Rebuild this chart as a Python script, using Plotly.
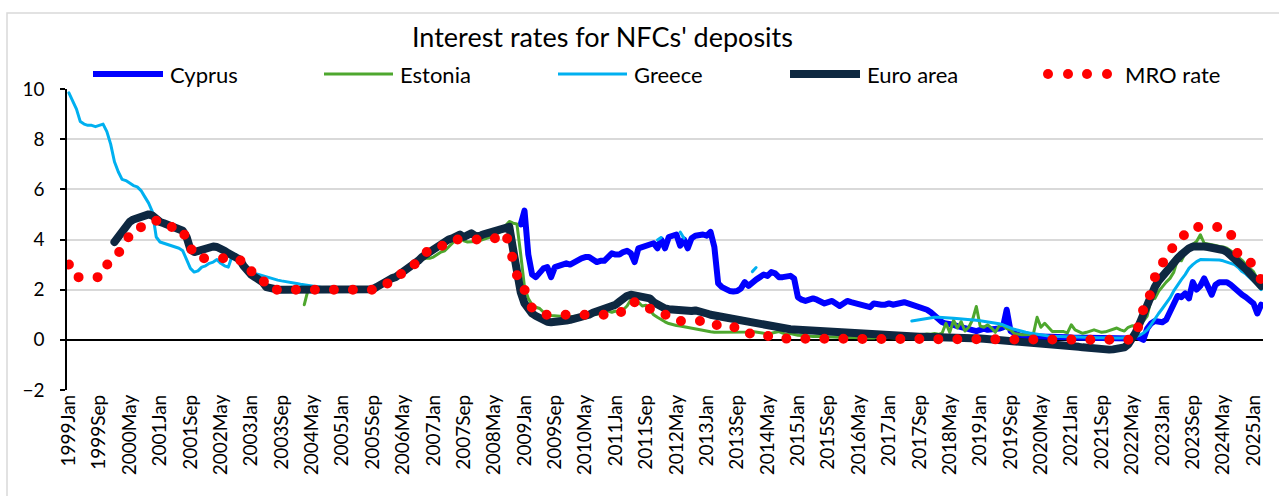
import plotly.graph_objects as go

# ---- categories: monthly observations 1999Jan .. 2025Mar ----
years = list(range(1999, 2026))
month_names = ["Jan", "Feb", "Mar", "Apr", "May", "Jun",
               "Jul", "Aug", "Sep", "Oct", "Nov", "Dec"]
months = [f"{y}{m}" for y in years for m in month_names][:315]
tick_step = 8
tick_idx = list(range(0, len(months), tick_step))
tick_labels = [months[i] for i in tick_idx]

N = None

# ---- series values (% p.a.), one row per year ----
cyprus = [
    N, N, N, N, N, N, N, N, N, N, N, N,                                   # 1999
    N, N, N, N, N, N, N, N, N, N, N, N,                                   # 2000
    N, N, N, N, N, N, N, N, N, N, N, N,                                   # 2001
    N, N, N, N, N, N, N, N, N, N, N, N,                                   # 2002
    N, N, N, N, N, N, N, N, N, N, N, N,                                   # 2003
    N, N, N, N, N, N, N, N, N, N, N, N,                                   # 2004
    N, N, N, N, N, N, N, N, N, N, N, N,                                   # 2005
    N, N, N, N, N, N, N, N, N, N, N, N,                                   # 2006
    N, N, N, N, N, N, N, N, N, N, N, N,                                   # 2007
    N, N, N, N, N, N, N, N, N, N, N, 4.6,                                 # 2008
    5.15, 3.4, 2.6, 2.5, 2.7, 2.85, 2.9, 2.5, 2.9, 2.95, 3.05, 3.05,      # 2009
    3.0, 3.1, 3.2, 3.25, 3.3, 3.3, 3.2, 3.1, 3.15, 3.15, 3.3, 3.45,       # 2010
    3.4, 3.4, 3.5, 3.55, 3.45, 3.1, 3.65, 3.7, 3.75, 3.8, 3.85, 3.65,     # 2011
    4.0, 3.65, 4.1, 4.15, 4.2, 3.75, 4.0, 3.65, 4.05, 4.15, 4.2, 4.2,     # 2012
    4.15, 4.3, 3.7, 2.25, 2.1, 2.0, 1.95, 1.93, 1.95, 2.05, 2.3, 2.15,    # 2013
    2.3, 2.4, 2.5, 2.6, 2.55, 2.7, 2.65, 2.5, 2.5, 2.55, 2.55, 2.45,      # 2014
    1.7, 1.6, 1.55, 1.6, 1.65, 1.6, 1.55, 1.45, 1.5, 1.55, 1.45, 1.35,    # 2015
    1.45, 1.55, 1.5, 1.45, 1.4, 1.35, 1.3, 1.3, 1.45, 1.4, 1.4, 1.4,      # 2016
    1.45, 1.4, 1.45, 1.5, 1.5, 1.45, 1.4, 1.35, 1.3, 1.3, 1.2, 1.1,       # 2017
    0.95, 0.8, 0.7, 0.65, 0.65, 0.6, 0.55, 0.5, 0.45, 0.4, 0.35, 0.35,    # 2018
    0.4, 0.45, 0.4, 0.4, 0.45, 0.45, 0.5, 1.2, 0.35, 0.25, 0.2, 0.15,     # 2019
    0.15, 0.14, 0.13, 0.13, 0.12, 0.12, 0.11, 0.11, 0.1, 0.1, 0.1, 0.1,   # 2020
    0.09, 0.09, 0.08, 0.08, 0.07, 0.07, 0.06, 0.06, 0.05, 0.05, 0.05, 0.04,  # 2021
    0.04, 0.04, 0.03, 0.03, 0.05, 0.15, 0.05, 0.0, 0.45, 0.65, 0.75, 0.7,    # 2022
    0.7, 0.8, 1.15, 1.55, 1.75, 1.7, 1.85, 1.65, 2.3, 2.0, 2.15, 2.45,    # 2023
    2.1, 1.8, 2.2, 2.3, 2.3, 2.3, 2.2, 2.05, 1.9, 1.8, 1.7, 1.55,         # 2024
    1.45, 1.05, 1.4,                                                      # 2025
]

estonia = [
    N, N, N, N, N, N, N, N, N, N, N, N,                                   # 1999
    N, N, N, N, N, N, N, N, N, N, N, N,                                   # 2000
    N, N, N, N, N, N, N, N, N, N, N, N,                                   # 2001
    N, N, N, N, N, N, N, N, N, N, N, N,                                   # 2002
    N, N, N, N, N, N, N, N, N, N, N, N,                                   # 2003
    N, N, 1.4, 2.0, 2.0, 2.02, 2.02, 2.03, 2.05, 2.05, 2.03, 2.02,        # 2004
    2.0, 2.0, 2.0, 2.0, 2.0, 2.0, 2.0, 2.0, 2.02, 2.1, 2.2, 2.3,          # 2005
    2.35, 2.45, 2.5, 2.6, 2.7, 2.8, 2.9, 3.0, 3.1, 3.2, 3.25, 3.25,       # 2006
    3.3, 3.4, 3.5, 3.55, 3.7, 3.85, 4.0, 4.05, 3.95, 3.9, 3.9, 3.92,      # 2007
    3.95, 4.0, 4.05, 4.1, 4.15, 4.25, 4.35, 4.55, 4.72, 4.65, 4.62, 3.4,  # 2008
    2.1, 1.65, 1.4, 1.3, 1.25, 1.1, 1.0, 0.97, 0.95, 0.93, 0.93, 0.92,    # 2009
    0.92, 0.93, 0.93, 0.95, 0.97, 1.0, 1.0, 1.02, 1.05, 1.1, 1.15, 1.1,   # 2010
    1.15, 1.05, 1.2, 1.35, 1.6, 1.65, 1.5, 1.35, 1.38, 1.2, 1.0, 0.9,     # 2011
    0.8, 0.72, 0.65, 0.6, 0.57, 0.55, 0.52, 0.5, 0.47, 0.42, 0.38, 0.35,  # 2012
    0.33, 0.32, 0.3, 0.3, 0.29, 0.28, 0.29, 0.3, 0.29, 0.28, 0.3, 0.31,   # 2013
    0.33, 0.3, 0.27, 0.25, 0.24, 0.26, 0.3, 0.33, 0.27, 0.22, 0.25, 0.2,  # 2014
    0.18, 0.17, 0.15, 0.14, 0.13, 0.14, 0.12, 0.12, 0.11, 0.11, 0.1, 0.1,    # 2015
    0.09, 0.1, 0.09, 0.08, 0.09, 0.08, 0.07, 0.08, 0.07, 0.12, 0.22, 0.1,    # 2016
    0.08, 0.07, 0.07, 0.08, 0.07, 0.08, 0.1, 0.12, 0.15, 0.2, 0.23, 0.22,    # 2017
    0.25, 0.22, 0.27, 0.66, 0.3, 0.78, 0.47, 0.73, 0.35, 0.5, 0.8, 1.33,     # 2018
    0.55, 0.5, 0.6, 0.47, 0.3, 0.55, 0.58, 0.45, 0.4, 0.25, 0.22, 0.2,       # 2019
    0.2, 0.2, 0.22, 0.9, 0.5, 0.66, 0.5, 0.33, 0.33, 0.33, 0.33, 0.28,       # 2020
    0.6, 0.4, 0.33, 0.26, 0.3, 0.36, 0.4, 0.35, 0.3, 0.32, 0.37, 0.45,       # 2021
    0.47, 0.4, 0.35, 0.5, 0.56, 0.55, 0.6, 0.75, 0.95, 1.6, 1.65, 1.93,      # 2022
    2.13, 2.3, 2.45, 2.7, 3.2, 3.15, 3.45, 3.7, 3.8, 3.92, 4.19, 3.85,       # 2023
    3.82, 3.8, 3.76, 3.72, 3.7, 3.65, 3.55, 3.45, 3.3, 3.17, 3.0, 2.85,      # 2024
    2.72, 2.45, 2.25,                                                        # 2025
]

greece = [
    9.85, 9.5, 9.2, 8.7, 8.6, 8.55, 8.55, 8.5, 8.55, 8.6, 8.3, 7.8,       # 1999
    7.1, 6.7, 6.4, 6.35, 6.25, 6.15, 6.1, 5.95, 5.7, 5.45, 5.1, 4.1,      # 2000
    3.9, 3.85, 3.8, 3.78, 3.7, 3.65, 3.55, 3.2, 2.85, 2.7, 2.75, 2.9,     # 2001
    2.95, 3.05, 3.1, 3.2, 3.05, 2.95, 2.9, 3.35, 3.4, 3.1, 2.85, 2.7,     # 2002
    2.7, 2.65, 2.6, 2.55, 2.5, 2.45, 2.4, 2.38, 2.35, 2.33, 2.3, 2.28,    # 2003
    2.25, 2.22, 2.2, 2.18, 2.15, 2.13, 2.1, 2.08, N, N, N, N,             # 2004
    N, N, N, N, N, N, N, N, N, N, N, N,                                   # 2005
    N, N, N, N, N, N, N, N, N, N, N, N,                                   # 2006
    N, N, N, N, N, N, N, N, N, N, N, N,                                   # 2007
    N, N, N, N, N, N, N, N, N, N, N, N,                                   # 2008
    N, N, N, N, N, N, N, N, N, N, N, N,                                   # 2009
    N, N, N, N, N, N, N, N, N, N, N, N,                                   # 2010
    N, N, N, N, N, N, N, N, N, N, N, 3.98,                                # 2011
    4.08, N, N, N, N, 4.3, 4.05, N, N, N, N, N,                           # 2012
    N, N, N, N, N, N, N, N, N, N, N, N,                                   # 2013
    2.72, 2.88, N, N, N, N, N, N, N, N, N, N,                             # 2014
    N, N, N, N, N, N, N, N, N, N, N, N,                                   # 2015
    N, N, N, N, N, N, N, N, N, N, N, N,                                   # 2016
    N, N, N, N, N, N, 0.75, 0.78, 0.8, 0.82, 0.84, 0.87,                  # 2017
    0.9, 0.9, 0.9, 0.88, 0.87, 0.86, 0.85, 0.84, 0.82, 0.82, 0.8, 0.78,   # 2018
    0.76, 0.74, 0.72, 0.7, 0.67, 0.64, 0.6, 0.53, 0.47, 0.42, 0.38, 0.33, # 2019
    0.3, 0.27, 0.24, 0.21, 0.19, 0.17, 0.15, 0.14, 0.13, 0.13, 0.12, 0.12,   # 2020
    0.12, 0.11, 0.11, 0.1, 0.1, 0.09, 0.09, 0.08, 0.08, 0.07, 0.07, 0.07,    # 2021
    0.07, 0.07, 0.07, 0.08, 0.1, 0.13, 0.18, 0.27, 0.4, 0.6, 0.85, 1.05,     # 2022
    1.25, 1.45, 1.67, 1.95, 2.2, 2.4, 2.6, 2.85, 3.0, 3.12, 3.2, 3.2,        # 2023
    3.18, 3.18, 3.19, 3.18, 3.15, 3.1, 3.05, 3.0, 2.88, 2.72, 2.62, 2.48,    # 2024
    2.33, 2.2, 2.0,                                                          # 2025
]

euro_area = [
    N, N, N, N, N, N, N, N, N, N, N, N,                                   # 1999
    3.9, 4.1, 4.3, 4.55, 4.7, 4.8, 4.85, 4.9, 4.95, 5.0, 4.95, 4.8,       # 2000
    4.7, 4.65, 4.6, 4.55, 4.5, 4.45, 4.35, 4.1, 3.6, 3.5, 3.55, 3.6,      # 2001
    3.65, 3.7, 3.72, 3.7, 3.65, 3.55, 3.45, 3.35, 3.3, 3.2, 2.95, 2.75,   # 2002
    2.6, 2.5, 2.4, 2.3, 2.1, 2.05, 2.05, 2.0, 2.0, 2.0, 2.0, 2.0,         # 2003
    2.0, 2.02, 2.05, 2.05, 2.03, 2.02, 2.02, 2.03, 2.05, 2.05, 2.05, 2.03,   # 2004
    2.02, 2.0, 2.0, 2.0, 2.0, 2.0, 2.0, 2.0, 2.02, 2.1, 2.2, 2.3,            # 2005
    2.35, 2.45, 2.5, 2.6, 2.7, 2.8, 2.95, 3.05, 3.15, 3.3, 3.4, 3.5,         # 2006
    3.6, 3.75, 3.85, 3.95, 4.0, 4.05, 4.15, 4.2, 4.1, 4.15, 4.25, 4.15,      # 2007
    4.12, 4.2, 4.25, 4.3, 4.35, 4.42, 4.48, 4.52, 4.5, 3.6, 2.6, 1.9,        # 2008
    1.45, 1.2, 1.05, 0.95, 0.85, 0.77, 0.72, 0.7, 0.7, 0.72, 0.74, 0.77,     # 2009
    0.8, 0.83, 0.85, 0.9, 0.95, 1.0, 1.08, 1.12, 1.18, 1.22, 1.28, 1.33,     # 2010
    1.4, 1.52, 1.65, 1.75, 1.8, 1.78, 1.74, 1.73, 1.72, 1.65, 1.5, 1.4,      # 2011
    1.32, 1.25, 1.22, 1.2, 1.2, 1.18, 1.15, 1.13, 1.15, 1.17, 1.15, 1.1,     # 2012
    1.05, 1.0, 0.97, 0.93, 0.89, 0.86, 0.84, 0.82, 0.8, 0.77, 0.74, 0.71,    # 2013
    0.69, 0.66, 0.63, 0.6, 0.57, 0.54, 0.51, 0.49, 0.46, 0.44, 0.42, 0.41,   # 2014
    0.4, 0.38, 0.36, 0.35, 0.33, 0.32, 0.3, 0.29, 0.28, 0.27, 0.26, 0.25,    # 2015
    0.24, 0.23, 0.22, 0.21, 0.2, 0.2, 0.19, 0.18, 0.18, 0.17, 0.17, 0.16,    # 2016
    0.16, 0.15, 0.15, 0.14, 0.14, 0.13, 0.13, 0.13, 0.12, 0.12, 0.12, 0.11,  # 2017
    0.11, 0.1, 0.1, 0.1, 0.1, 0.09, 0.09, 0.08, 0.08, 0.07, 0.07, 0.06,      # 2018
    0.05, 0.04, 0.03, 0.02, 0.0, -0.01, -0.03, -0.04, -0.05, -0.06, -0.07, -0.1,    # 2019
    -0.12, -0.12, -0.13, -0.14, -0.15, -0.17, -0.18, -0.19, -0.2, -0.2, -0.2, -0.21,  # 2020
    -0.22, -0.25, -0.28, -0.3, -0.32, -0.35, -0.37, -0.38, -0.4, -0.4, -0.39, -0.38,  # 2021
    -0.36, -0.34, -0.3, -0.18, 0.02, 0.3, 0.65, 1.05, 1.5, 1.85, 2.1, 2.35,  # 2022
    2.55, 2.75, 2.95, 3.1, 3.25, 3.4, 3.55, 3.65, 3.72, 3.74, 3.73, 3.72,    # 2023
    3.7, 3.69, 3.68, 3.65, 3.58, 3.5, 3.38, 3.25, 3.12, 2.98, 2.82, 2.65,    # 2024
    2.5, 2.32, 2.15,                                                         # 2025
]

mro_rate = [
    3.0, 3.0, 2.5, 2.5, 2.5, 2.5, 2.5, 2.5, 2.5, 3.0, 3.0, 3.0,           # 1999
    3.25, 3.5, 3.5, 3.75, 4.25, 4.25, 4.25, 4.5, 4.75, 4.75, 4.75, 4.75,  # 2000
    4.75, 4.75, 4.75, 4.5, 4.5, 4.5, 4.5, 3.75, 3.75, 3.25, 3.25, 3.25,   # 2001
    3.25, 3.25, 3.25, 3.25, 3.25, 3.25, 3.25, 3.25, 3.25, 3.25, 2.75, 2.75,  # 2002
    2.75, 2.5, 2.5, 2.5, 2.0, 2.0, 2.0, 2.0, 2.0, 2.0, 2.0, 2.0,          # 2003
    2.0, 2.0, 2.0, 2.0, 2.0, 2.0, 2.0, 2.0, 2.0, 2.0, 2.0, 2.0,           # 2004
    2.0, 2.0, 2.0, 2.0, 2.0, 2.0, 2.0, 2.0, 2.0, 2.0, 2.25, 2.25,         # 2005
    2.25, 2.5, 2.5, 2.5, 2.75, 2.75, 3.0, 3.0, 3.25, 3.25, 3.5, 3.5,      # 2006
    3.5, 3.75, 3.75, 3.75, 4.0, 4.0, 4.0, 4.0, 4.0, 4.0, 4.0, 4.0,        # 2007
    4.0, 4.0, 4.0, 4.0, 4.0, 4.25, 4.25, 4.25, 3.75, 3.25, 2.5, 2.0,      # 2008
    2.0, 1.5, 1.25, 1.0, 1.0, 1.0, 1.0, 1.0, 1.0, 1.0, 1.0, 1.0,          # 2009
    1.0, 1.0, 1.0, 1.0, 1.0, 1.0, 1.0, 1.0, 1.0, 1.0, 1.0, 1.0,           # 2010
    1.0, 1.0, 1.25, 1.25, 1.25, 1.5, 1.5, 1.5, 1.5, 1.25, 1.0, 1.0,       # 2011
    1.0, 1.0, 1.0, 1.0, 1.0, 0.75, 0.75, 0.75, 0.75, 0.75, 0.75, 0.75,    # 2012
    0.75, 0.75, 0.75, 0.5, 0.5, 0.5, 0.5, 0.5, 0.5, 0.25, 0.25, 0.25,     # 2013
    0.25, 0.25, 0.25, 0.25, 0.15, 0.15, 0.15, 0.05, 0.05, 0.05, 0.05, 0.05,  # 2014
    0.05, 0.05, 0.05, 0.05, 0.05, 0.05, 0.05, 0.05, 0.05, 0.05, 0.05, 0.05,  # 2015
    0.05, 0.0, 0.0, 0.0, 0.0, 0.0, 0.0, 0.0, 0.0, 0.0, 0.0, 0.0,          # 2016
    0.0, 0.0, 0.0, 0.0, 0.0, 0.0, 0.0, 0.0, 0.0, 0.0, 0.0, 0.0,           # 2017
    0.0, 0.0, 0.0, 0.0, 0.0, 0.0, 0.0, 0.0, 0.0, 0.0, 0.0, 0.0,           # 2018
    0.0, 0.0, 0.0, 0.0, 0.0, 0.0, 0.0, 0.0, 0.0, 0.0, 0.0, 0.0,           # 2019
    0.0, 0.0, 0.0, 0.0, 0.0, 0.0, 0.0, 0.0, 0.0, 0.0, 0.0, 0.0,           # 2020
    0.0, 0.0, 0.0, 0.0, 0.0, 0.0, 0.0, 0.0, 0.0, 0.0, 0.0, 0.0,           # 2021
    0.0, 0.0, 0.0, 0.0, 0.0, 0.5, 0.5, 1.25, 1.25, 2.0, 2.5, 2.5,         # 2022
    3.0, 3.5, 3.5, 3.75, 4.0, 4.0, 4.25, 4.5, 4.5, 4.5, 4.5, 4.5,         # 2023
    4.5, 4.5, 4.5, 4.5, 4.25, 4.25, 4.25, 3.65, 3.4, 3.4, 3.15, 3.15,     # 2024
    2.9, 2.65, 2.4,                                                       # 2025
]

series_names = ["Cyprus", "Estonia", "Greece", "Euro area", "MRO rate"]
series_values = [cyprus, estonia, greece, euro_area, mro_rate]

# ---- styling ----
FONT = "Lato"
colors = {"Cyprus": "#0000FF", "Estonia": "#4EA72E", "Greece": "#00B0F0",
          "Euro area": "#0E2841", "MRO rate": "#FF0000"}
widths = {"Cyprus": 6, "Estonia": 3, "Greece": 3, "Euro area": 8, "MRO rate": 10}

W, H = 1279, 496
ML, MR, MT, MB = 67, 16, 89, 106
PW, PH = W - ML - MR, H - MT - MB


def px_x(px):
    return (px - ML) / PW


def px_y(py):
    return (H - MB - py) / PH


x_idx = list(range(len(months)))

fig = go.Figure()
for name, vals in zip(series_names, series_values):
    line = dict(color=colors[name], width=widths[name])
    if name == "MRO rate":
        line["dash"] = "0px,19px"
    fig.add_trace(go.Scatter(
        x=x_idx, y=vals, mode="lines", name=name, line=line,
        connectgaps=False, showlegend=False, hoverinfo="skip",
    ))

# ---- legend row drawn as shapes + labels ----
legend_y = 74
legend_font = dict(family=FONT, size=22, color="#000000")
legend_items = [
    ("Cyprus", 93, 163, 168),
    ("Estonia", 324, 393, 398),
    ("Greece", 558, 627, 632),
    ("Euro area", 790, 860, 865),
]
shapes = []
annotations = []
for name, x0, x1, tx in legend_items:
    shapes.append(dict(type="line", xref="paper", yref="paper",
                       x0=px_x(x0), x1=px_x(x1), y0=px_y(legend_y), y1=px_y(legend_y),
                       line=dict(color=colors[name], width=widths[name])))
    annotations.append(dict(text=name, xref="paper", yref="paper",
                            x=px_x(tx), y=px_y(legend_y), xanchor="left", yanchor="middle",
                            showarrow=False, font=legend_font))
for cx in (1048, 1068, 1087, 1107):
    shapes.append(dict(type="circle", xref="paper", yref="paper",
                       xsizemode="pixel", ysizemode="pixel",
                       xanchor=px_x(cx), yanchor=px_y(legend_y),
                       x0=-5, x1=5, y0=-5, y1=5,
                       fillcolor=colors["MRO rate"], line=dict(width=0)))
annotations.append(dict(text="MRO rate", xref="paper", yref="paper",
                        x=px_x(1123), y=px_y(legend_y), xanchor="left", yanchor="middle",
                        showarrow=False, font=legend_font))

# chart title
annotations.append(dict(text="Interest rates for NFCs' deposits", xref="paper", yref="paper",
                        x=px_x(602), y=px_y(36), xanchor="center", yanchor="middle",
                        showarrow=False, font=dict(family=FONT, size=27, color="#000000")))

# outer chart frame
shapes.append(dict(type="rect", xref="paper", yref="paper",
                   x0=px_x(7), x1=px_x(1290), y0=px_y(520), y1=px_y(13),
                   line=dict(color="#D9D9D9", width=1.5), layer="below"))

fig.update_layout(
    width=W, height=H,
    margin=dict(l=ML, r=MR, t=MT, b=MB),
    paper_bgcolor="white", plot_bgcolor="white",
    font=dict(family=FONT, color="#000000"),
    shapes=shapes, annotations=annotations,
    showlegend=False,
)
fig.update_xaxes(
    range=[-0.5, len(months) - 0.5],
    tickmode="array", tickvals=tick_idx, ticktext=tick_labels,
    tickangle=-90, tickfont=dict(family=FONT, size=19, color="#000000"),
    showgrid=False, zeroline=False, showline=False, ticks="",
)
fig.update_yaxes(
    range=[-2, 10], dtick=2, tick0=0,
    tickfont=dict(family=FONT, size=19, color="#000000"),
    showgrid=True, gridcolor="#D9D9D9", gridwidth=1.5,
    zeroline=True, zerolinecolor="#000000", zerolinewidth=1.5,
    showline=True, linecolor="#000000", linewidth=1.5,
    ticks="outside", ticklen=5, tickcolor="#000000", tickwidth=1.5,
    ticklabelstandoff=12,
)

post = """
var gd = document.getElementById('{plot_id}');
gd.querySelectorAll('.scatterlayer .trace path.js-line').forEach(function(p){
    p.style.strokeLinejoin = 'round';
    p.style.strokeLinecap = 'round';
});
"""
fig.write_html("out.html", post_script=post)
